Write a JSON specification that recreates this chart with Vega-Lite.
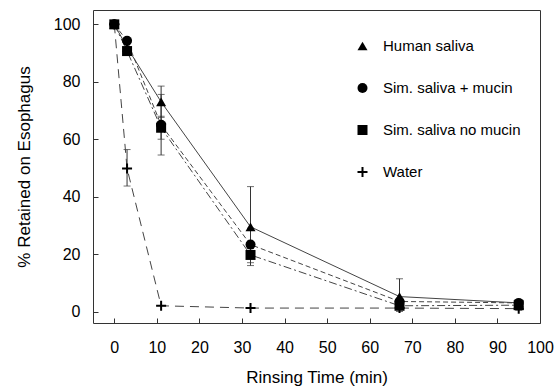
{
  "$schema": "https://vega.github.io/schema/vega-lite/v6.json",
  "width": 447,
  "height": 313,
  "autosize": {"type": "none"},
  "padding": {"left": 93, "top": 10, "right": 16, "bottom": 65},
  "background": "white",
  "config": {
    "font": "Liberation Sans",
    "view": {"stroke": "#333", "strokeWidth": 1},
    "axis": {
      "domain": false,
      "grid": false,
      "tickSize": -5,
      "tickColor": "#333",
      "labelColor": "black",
      "labelFontSize": 16,
      "titleFontSize": 17,
      "titleFontWeight": "normal",
      "titleColor": "black",
      "labelOverlap": false,
      "labelFlush": false
    },
    "line": {"color": "#444", "strokeWidth": 1}
  },
  "datasets": {
    "series": [
      {"s": "Human saliva", "t": 0, "pct": 100},
      {"s": "Human saliva", "t": 3, "pct": 92},
      {"s": "Human saliva", "t": 11, "pct": 73},
      {"s": "Human saliva", "t": 32, "pct": 29.5},
      {"s": "Human saliva", "t": 67, "pct": 5.2},
      {"s": "Human saliva", "t": 95, "pct": 3},
      {"s": "Sim. saliva + mucin", "t": 0, "pct": 100},
      {"s": "Sim. saliva + mucin", "t": 3, "pct": 94.3},
      {"s": "Sim. saliva + mucin", "t": 11, "pct": 65},
      {"s": "Sim. saliva + mucin", "t": 32, "pct": 23.3},
      {"s": "Sim. saliva + mucin", "t": 67, "pct": 3.5},
      {"s": "Sim. saliva + mucin", "t": 95, "pct": 3},
      {"s": "Sim. saliva no mucin", "t": 0, "pct": 100},
      {"s": "Sim. saliva no mucin", "t": 3, "pct": 90.7},
      {"s": "Sim. saliva no mucin", "t": 11, "pct": 64},
      {"s": "Sim. saliva no mucin", "t": 32, "pct": 19.7},
      {"s": "Sim. saliva no mucin", "t": 67, "pct": 2},
      {"s": "Sim. saliva no mucin", "t": 95, "pct": 2.2},
      {"s": "Water", "t": 0, "pct": 100},
      {"s": "Water", "t": 3, "pct": 49.8},
      {"s": "Water", "t": 11, "pct": 2},
      {"s": "Water", "t": 32, "pct": 1.2},
      {"s": "Water", "t": 67, "pct": 1.2},
      {"s": "Water", "t": 95, "pct": 1}
    ],
    "err": [
      {"t": 3, "lo": 43.7, "hi": 56.4},
      {"t": 11, "lo": 67.6, "hi": 78.5},
      {"t": 11, "lo": 54.5, "hi": 75.6},
      {"t": 11, "lo": 60, "hi": 68},
      {"t": 32, "lo": 16, "hi": 43.5},
      {"t": 32, "lo": 17, "hi": 29},
      {"t": 67, "lo": 0, "hi": 11.4},
      {"t": 95, "lo": 0.4, "hi": 3}
    ]
  },
  "layer": [
    {
      "data": {"name": "err"},
      "mark": {"type": "rule", "color": "#333", "strokeWidth": 1},
      "encoding": {
        "x": {
          "field": "t", "type": "quantitative", "title": "Rinsing Time (min)",
          "scale": {"domain": [-5, 100], "nice": false, "zero": false},
          "axis": {
            "values": [0, 5, 10, 15, 20, 25, 30, 35, 40, 45, 50, 55, 60, 65, 70, 75, 80, 85, 90, 95, 100],
            "labelExpr": "datum.value % 10 === 0 ? datum.label : ''",
            "labelOverlap": false,
            "labelPadding": 21,
            "titlePadding": 14
          }
        },
        "y": {
          "field": "lo", "type": "quantitative", "title": "% Retained on Esophagus",
          "scale": {"domain": [-4, 105], "nice": false, "zero": false},
          "axis": {
            "values": [0, 5, 10, 15, 20, 25, 30, 35, 40, 45, 50, 55, 60, 65, 70, 75, 80, 85, 90, 95, 100],
            "labelExpr": "datum.value % 10 === 0 ? datum.label : ''",
            "labelOverlap": false,
            "labelPadding": 18,
            "titlePadding": 20
          }
        },
        "y2": {"field": "hi"}
      }
    },
    {
      "data": {"name": "err"},
      "mark": {"type": "tick", "orient": "horizontal", "size": 7, "thickness": 1, "color": "#333"},
      "encoding": {
        "x": {"field": "t", "type": "quantitative", "title": "Rinsing Time (min)"},
        "y": {"field": "lo", "type": "quantitative", "title": "% Retained on Esophagus"}
      }
    },
    {
      "data": {"name": "err"},
      "mark": {"type": "tick", "orient": "horizontal", "size": 7, "thickness": 1, "color": "#333"},
      "encoding": {
        "x": {"field": "t", "type": "quantitative", "title": "Rinsing Time (min)"},
        "y": {"field": "hi", "type": "quantitative", "title": "% Retained on Esophagus"}
      }
    },
    {
      "data": {"name": "series"},
      "transform": [{"filter": "datum.s === 'Human saliva'"}],
      "mark": {"type": "line"},
      "encoding": {
        "x": {"field": "t", "type": "quantitative", "title": "Rinsing Time (min)"},
        "y": {"field": "pct", "type": "quantitative", "title": "% Retained on Esophagus"}
      }
    },
    {
      "data": {"name": "series"},
      "transform": [{"filter": "datum.s === 'Sim. saliva + mucin'"}],
      "mark": {"type": "line", "strokeDash": [5, 3]},
      "encoding": {
        "x": {"field": "t", "type": "quantitative", "title": "Rinsing Time (min)"},
        "y": {"field": "pct", "type": "quantitative", "title": "% Retained on Esophagus"}
      }
    },
    {
      "data": {"name": "series"},
      "transform": [{"filter": "datum.s === 'Sim. saliva no mucin'"}],
      "mark": {"type": "line", "strokeDash": [8, 3, 2, 3]},
      "encoding": {
        "x": {"field": "t", "type": "quantitative", "title": "Rinsing Time (min)"},
        "y": {"field": "pct", "type": "quantitative", "title": "% Retained on Esophagus"}
      }
    },
    {
      "data": {"name": "series"},
      "transform": [{"filter": "datum.s === 'Water'"}],
      "mark": {"type": "line", "strokeDash": [9, 6]},
      "encoding": {
        "x": {"field": "t", "type": "quantitative", "title": "Rinsing Time (min)"},
        "y": {"field": "pct", "type": "quantitative", "title": "% Retained on Esophagus"}
      }
    },
    {
      "data": {"name": "series"},
      "mark": {"type": "point", "filled": true, "color": "black", "size": 100, "opacity": 1},
      "encoding": {
        "x": {"field": "t", "type": "quantitative", "title": "Rinsing Time (min)"},
        "y": {"field": "pct", "type": "quantitative", "title": "% Retained on Esophagus"},
        "shape": {
          "field": "s", "type": "nominal",
          "scale": {
            "domain": ["Human saliva", "Sim. saliva + mucin", "Sim. saliva no mucin", "Water"],
            "range": ["triangle-up", "circle", "square", "M-1,-0.2H-0.2V-1H0.2V-0.2H1V0.2H0.2V1H-0.2V0.2H-1Z"]
          },
          "legend": {
            "title": null,
            "orient": "none",
            "legendX": 262,
            "legendY": 28.5,
            "padding": 0,
            "symbolSize": 100,
            "rowPadding": 26,
            "labelOffset": 13,
            "labelFontSize": 15,
            "labelColor": "black",
            "labelLimit": 300,
            "symbolStrokeWidth": 0,
            "symbolFillColor": "black",
            "symbolOpacity": 1
          }
        }
      }
    }
  ]
}
